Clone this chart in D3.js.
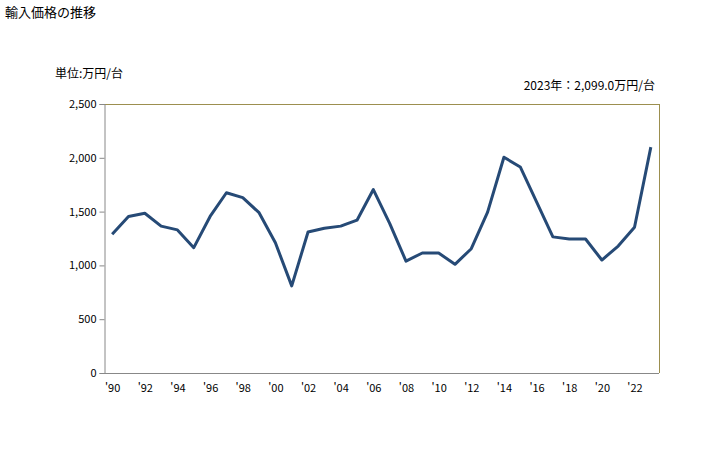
<!doctype html>
<html lang="ja">

<head>
  <title>輸入価格の推移</title>
  <meta charset="utf-8" />
  <script src="https://d3js.org/d3.v7.min.js"></script>
  <style>
    body { margin: 0; background: #fff; }
    text { font-family: "Noto Sans CJK JP", sans-serif; fill: #000; }
  </style>
</head>

<body>
  <figure id="line-chart" style="margin:0"></figure>

  <script>
    // years and import price (万円/台)
    const years = d3.range(1990, 2024);
    const prices = [
      1290, 1455, 1485, 1365, 1330, 1165, 1455, 1675, 1630, 1490,
      1210, 810, 1310, 1345, 1365, 1420, 1705, 1390, 1040, 1115,
      1115, 1010, 1155, 1495, 2005, 1915, 1590, 1265, 1245, 1245,
      1050, 1180, 1355, 2099
    ];
    const yTicks = [0, 500, 1000, 1500, 2000, 2500];
    const xTickYears = d3.range(1990, 2023, 2);

    const params = {
      width: 728,
      height: 450,
      left: 104,
      right: 659,
      top: 104,
      bottom: 373
    };

    const svg = d3.select("#line-chart").append("svg")
      .attr("width", params.width)
      .attr("height", params.height);

    const xScale = d3.scalePoint()
      .domain(years)
      .range([params.left, params.right])
      .padding(0.5);

    const yScale = d3.scaleLinear()
      .domain([0, 2500])
      .range([params.bottom, params.top]);

    // title and notes
    svg.append("text").attr("x", 5).attr("y", 17)
      .attr("font-size", 13).text("輸入価格の推移");
    svg.append("text").attr("x", 55).attr("y", 78)
      .attr("font-size", 12).text("単位:万円/台");
    svg.append("text").attr("x", 655).attr("y", 90)
      .attr("font-size", 12).attr("text-anchor", "end")
      .text("2023年：2,099.0万円/台");

    // frame: olive top and right, gray axes
    svg.append("line")
      .attr("x1", params.left).attr("x2", params.right)
      .attr("y1", params.top + 0.5).attr("y2", params.top + 0.5)
      .attr("stroke", "#9c8f4f");
    svg.append("line")
      .attr("x1", params.right + 0.5).attr("x2", params.right + 0.5)
      .attr("y1", params.top).attr("y2", params.bottom)
      .attr("stroke", "#9c8f4f");

    const yAxis = svg.append("g")
      .attr("transform", "translate(" + (params.left + 0.5) + ",0)")
      .call(d3.axisLeft(yScale).tickValues(yTicks).tickSize(5)
        .tickFormat(d3.format(",")));
    yAxis.selectAll("path, line").attr("stroke", "#888");
    yAxis.selectAll("text")
      .attr("font-size", 11)
      .attr("font-family", "'Noto Sans CJK JP', sans-serif")
      .attr("fill", "#000");

    const xAxis = svg.append("g")
      .attr("transform", "translate(0," + (params.bottom + 0.5) + ")")
      .call(d3.axisBottom(xScale).tickValues(xTickYears).tickSize(0)
        .tickPadding(11)
        .tickFormat(d => "'" + String(d).slice(2)));
    xAxis.select("path").attr("stroke", "#888")
      .attr("d", "M" + params.left + ",0H" + params.right);
    xAxis.selectAll("text")
      .attr("font-size", 11)
      .attr("font-family", "'Noto Sans CJK JP', sans-serif")
      .attr("fill", "#000");

    // the price line
    const line = d3.line()
      .x((d, i) => xScale(years[i]))
      .y(d => yScale(d));

    svg.append("path")
      .datum(prices)
      .attr("d", line)
      .attr("fill", "none")
      .attr("stroke", "#264a76")
      .attr("stroke-width", 3)
      .attr("stroke-linejoin", "round");
  </script>

</body></html>
